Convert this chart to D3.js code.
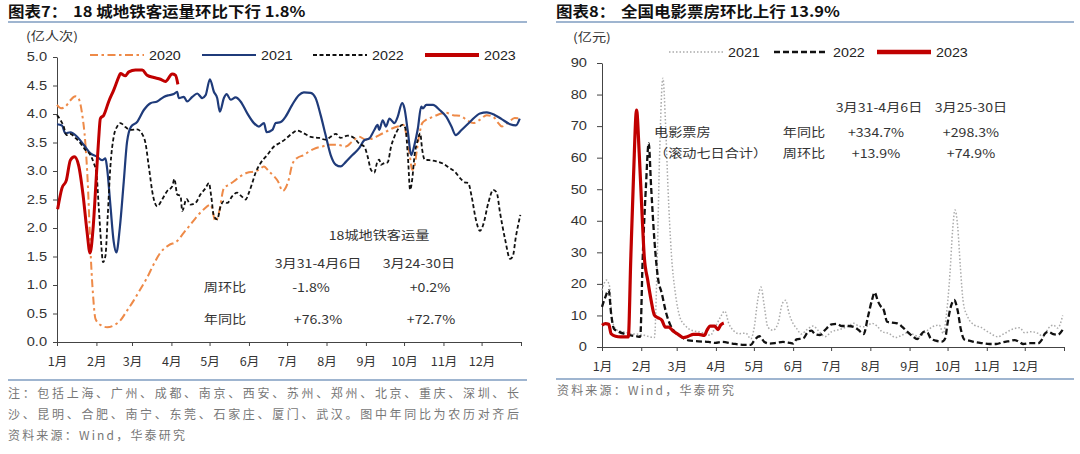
<!DOCTYPE html>
<html>
<head>
<meta charset="utf-8">
<script src="https://cdn.jsdelivr.net/npm/d3@7"></script>
<style>
  body { margin: 0; background: #fff; }
  svg text { font-family: "Liberation Sans", Arial, "Noto Sans CJK SC", sans-serif; }
</style>
</head>
<body>
<svg id="chart" width="1080" height="454"></svg>
<script>
// month starts (day of year) and labels shared by both panels
var monthStarts = [0, 31, 59, 90, 120, 151, 181, 212, 243, 273, 304, 334, 365];
var monthLabels = ["1月", "2月", "3月", "4月", "5月", "6月", "7月", "8月", "9月", "10月", "11月", "12月", ""];

// 18-city metro ridership (亿人次), [day of year, value]
var metro2020 = [[0,4.16],[3.2,4.10],[6.6,4.13],[10.5,4.24],[14.4,4.31],[17,4.27],[19.7,4.01],[22.3,3.49],[24.2,2.79],[25.7,1.98],[26.8,1.40],[28.4,0.81],[30.2,0.41],[34.1,0.30],[39.4,0.26],[44.6,0.29],[49.9,0.38],[55.1,0.55],[60.4,0.73],[65.7,0.93],[70.9,1.13],[76.2,1.37],[81.4,1.57],[88,1.70],[94.5,1.77],[99.8,1.92],[105,2.06],[110.3,2.21],[115.5,2.33],[120.8,2.41],[124.7,2.12],[127.4,2.27],[131.3,2.70],[135.2,2.76],[139.2,2.82],[144.4,2.91],[149.7,2.97],[154.9,2.99],[158.9,3.02],[162.8,3.08],[166.8,2.99],[170.7,2.91],[173.8,2.82],[177.5,2.65],[182.3,2.85],[185,3.11],[188.9,3.23],[194.2,3.28],[198.1,3.34],[203.4,3.40],[208.7,3.43],[214,3.46],[220.6,3.46],[227.2,3.43],[232.4,3.52],[237.7,3.60],[243,3.55],[249.3,3.58],[253.5,3.63],[258.8,3.69],[264.1,3.75],[269.4,3.79],[272.5,3.81],[274.6,3.66],[277.3,3.31],[279.4,3.02],[281.2,3.08],[283.1,3.37],[285.2,3.66],[287.3,3.84],[290.5,3.90],[295.8,3.95],[301,4.00],[306.3,4.02],[311.6,3.98],[316.9,3.97],[322.1,3.90],[327.4,3.84],[332.7,3.90],[338,3.98],[343.2,3.95],[347.2,3.84],[350,3.78],[355,3.85],[360,3.93],[364,3.92]];
var metro2021 = [[0,3.82],[3.9,3.80],[6.6,3.66],[10.5,3.68],[15.8,3.60],[21,3.46],[26.3,3.31],[31.5,3.25],[35.5,3.19],[38.1,3.22],[39.4,3.05],[42,2.40],[44.6,1.76],[46.7,1.57],[49.4,2.00],[52.5,2.81],[55.1,3.51],[58.3,3.78],[63,3.86],[68.3,4.07],[73.5,4.19],[78.8,4.22],[84,4.30],[88,4.33],[91.9,4.35],[94.5,4.39],[95.8,4.28],[99.8,4.30],[102.4,4.22],[106.4,4.30],[110.3,4.36],[114.2,4.28],[116.9,4.33],[120.3,4.61],[123.4,4.39],[126,4.28],[128.1,4.04],[131.3,4.28],[133.4,4.35],[136.6,4.25],[140.5,4.29],[144.4,4.22],[149.7,4.01],[154.9,3.84],[158.9,3.78],[162.8,3.84],[164.9,3.68],[169.4,3.72],[172,3.84],[176,3.86],[179.7,3.95],[185,4.16],[190.2,4.33],[194.2,4.38],[199.5,4.37],[203.4,4.28],[207.4,3.98],[211.3,3.63],[215.3,3.28],[219.3,3.11],[223.2,3.08],[227.2,3.16],[232.4,3.28],[237.7,3.40],[241.7,3.54],[245.6,3.57],[249.6,3.72],[252.2,3.81],[253.5,3.72],[256.2,3.89],[258.8,3.78],[261.5,3.92],[265.4,3.84],[268,3.95],[271.5,4.19],[273.3,4.10],[276,3.69],[278.6,3.28],[281.2,3.46],[283.9,3.75],[286.5,4.13],[287.8,4.10],[290.5,4.16],[295.8,4.16],[301,4.07],[306.3,3.95],[310.3,3.78],[313.7,3.63],[318.2,3.72],[324.8,3.86],[332.7,4.01],[338,4.03],[344.6,3.98],[349.8,3.91],[356.4,3.82],[361,3.80],[364,3.92]];
var metro2022 = [[0,3.98],[2.6,3.90],[5.3,3.78],[7.4,3.63],[10.5,3.65],[14.4,3.58],[18.4,3.49],[22.3,3.37],[26.3,3.28],[28.9,3.14],[31,2.97],[32.8,2.38],[34.7,1.74],[36.2,1.40],[38.1,1.51],[39.9,2.21],[42,3.08],[44.6,3.60],[47.3,3.78],[49.9,3.84],[53.8,3.77],[57.8,3.72],[63,3.73],[67,3.65],[69.6,3.49],[72.2,3.08],[75.6,2.56],[78.8,2.38],[82.7,2.50],[86.7,2.65],[90.6,2.73],[92.4,2.86],[94.5,2.59],[97.2,2.56],[98.5,2.30],[101.9,2.51],[105,2.41],[109,2.44],[112.9,2.59],[116.9,2.70],[119.5,2.79],[121.3,2.56],[123.4,2.21],[126,2.15],[128.7,2.38],[131.3,2.47],[133.9,2.44],[137.9,2.56],[141.8,2.62],[145,2.56],[148.4,2.50],[151,2.62],[153.6,2.79],[156.2,2.97],[160.2,3.14],[165.4,3.28],[170.7,3.43],[175.9,3.50],[179.7,3.56],[185,3.66],[188.9,3.71],[194.2,3.66],[199.5,3.60],[206.1,3.58],[211.3,3.55],[215.3,3.60],[219.3,3.65],[223.2,3.58],[228.5,3.62],[233.8,3.58],[237.7,3.48],[241.7,3.43],[244.3,3.26],[247,3.02],[249.6,2.97],[251.7,3.14],[253.5,3.20],[254.9,3.11],[257.5,3.14],[260.1,3.15],[262.8,3.43],[265.4,3.60],[268.8,3.75],[271.5,3.81],[274.1,3.75],[276,3.26],[277.8,2.67],[279.4,2.85],[281.2,3.26],[283.9,3.55],[285.7,3.66],[287.3,3.37],[289.2,3.20],[293.1,3.19],[298.4,3.17],[303.7,3.13],[308.9,3.05],[312.9,2.99],[316.9,2.88],[320.8,2.80],[323.5,2.79],[326.1,2.56],[329.5,2.15],[332.7,1.95],[335.3,2.06],[339.3,2.44],[343.2,2.67],[345.9,2.62],[348.5,2.27],[352.5,1.80],[356.4,1.46],[358.5,1.50],[361,1.85],[364.5,2.23]];
var metro2023 = [[0.5,2.33],[3.9,2.70],[7.4,2.84],[10.5,3.19],[13.7,3.25],[17,3.10],[20.5,2.58],[23.6,1.94],[26,1.56],[28.4,2.00],[31,2.93],[32.8,3.57],[34.1,3.92],[36.8,3.98],[40.7,4.22],[44.6,4.42],[48.6,4.65],[49.9,4.71],[53.8,4.67],[56.5,4.74],[61.7,4.77],[67,4.77],[70.9,4.68],[76.2,4.64],[81.4,4.61],[85.3,4.57],[90.6,4.70],[93.2,4.68],[95.1,4.52]];

// national box office, rolling 7-day sum (亿元), [day of year, value]
var box2021 = [[0,18],[3.5,21.2],[6.1,19],[8,8.5],[12,5.3],[17.4,4.8],[22.7,4.2],[30.7,4.0],[36.1,3.4],[41.4,3.0],[43.6,27.5],[45.4,59.3],[48.1,85.2],[50.3,69.8],[52.1,50.8],[54.8,29.6],[58,16.9],[61.5,9.5],[65.5,6.9],[70.8,5.3],[76.2,4.8],[81.5,4.4],[85.5,3.7],[89.5,6.3],[93.6,9.5],[97,11.4],[100.2,7.4],[104.2,5.1],[108.3,4.2],[113.6,4.4],[117.6,2.6],[120.3,6.3],[123,14.8],[125.6,19],[128.3,12.7],[131,6.3],[135,5.3],[139,7.4],[142.5,13.8],[145.1,14.8],[147.8,10.6],[151,7.4],[153.7,5.9],[157.6,4.1],[161.6,5.4],[166.9,6.65],[170.9,5.2],[176.2,3.27],[181.5,4.85],[188.1,5.6],[194.8,6.65],[198.8,7.5],[202.7,6.65],[208,6.4],[213.3,7.5],[217.3,6.65],[221.3,4.85],[226.6,4.3],[231.9,3.0],[237.2,3.8],[241.2,4.5],[245.1,4.1],[250.5,3.27],[255.8,4.85],[261.1,6.4],[266.4,6.96],[269.6,4.3],[272.2,10.6],[274.9,23.3],[277,37],[278.9,43.4],[281,38.2],[283.1,25.5],[285.5,13.9],[288.9,9.6],[294.2,6.96],[299.5,6.2],[306.1,4.5],[312.7,3.27],[318,4.3],[324.7,5.7],[330,6.1],[334,4.5],[339.3,4.85],[344.6,4.3],[348.6,3.27],[352.6,5.9],[356.5,6.96],[360,6],[364,10]];
var box2022 = [[0,12.7],[2.7,15.9],[5.3,18.0],[7.2,10.6],[9.4,5.8],[13.4,4.8],[17.4,4.2],[22.7,3.7],[27.5,3.4],[30.2,3.2],[32.1,27.5],[34.7,50.8],[36.9,64.6],[38.8,50.8],[41.4,33.9],[44.1,22.2],[47.3,16.9],[50.8,10.6],[53.5,7.4],[57.5,4.8],[62.8,3.2],[68.2,2.1],[76.2,1.8],[84.2,1.6],[89.5,1.3],[94.9,1.6],[102.9,1.1],[110.9,0.7],[117.6,0.7],[120.3,2.1],[124.3,3.4],[128.3,1.6],[132.3,1.1],[137.7,1.3],[143,1.6],[148.4,1.3],[151,1.1],[153.7,2.4],[159,2.74],[162.9,4.85],[165.6,5.16],[168.2,4.1],[172.2,3.8],[176.2,5.38],[181.5,7.2],[185.5,7.3],[189.5,6.65],[194.8,6.65],[198.8,6.4],[202.7,5.38],[206.7,4.1],[210.1,9.6],[213.3,14.9],[215.4,17.3],[218.1,14.4],[220,13.0],[222.6,11.7],[225.3,8.0],[229.2,7.7],[233.2,7.5],[237.2,6.4],[241.2,4.85],[245.1,3.5],[249.1,2.5],[251.8,3.8],[254.4,4.85],[257.1,4.6],[259.7,2.7],[263.7,2.0],[268.5,1.7],[271.1,2.7],[273,7.5],[275.6,12.8],[278.3,14.9],[280.9,11.7],[283.6,5.4],[286.2,2.4],[290.2,2.0],[295.5,1.5],[300.8,1.2],[306.1,0.95],[311.4,0.95],[316.7,1.5],[322,1.9],[326,2.2],[330,1.5],[332.7,0.95],[338,1.2],[344.6,1.2],[347.3,2.2],[350,4.3],[352.6,4.85],[356.5,4.1],[360,3.9],[364,5.5]];
var box2023 = [[0,6.9],[2.7,7.4],[5.3,7.2],[7.2,4.2],[10.7,3.4],[14.7,3.2],[20.8,3.2],[22.7,27.5],[24.9,54],[27.3,75.1],[29.4,61.4],[31.5,43.4],[33.4,28.6],[36.1,21.2],[38.8,14.8],[41.4,10.1],[44.1,9.3],[47.3,8.5],[50,6.3],[52.7,6.3],[56.1,5.1],[60.1,4.0],[64.2,3.0],[68.2,3.4],[72.2,4.0],[76.2,4.0],[81,3.7],[82.9,5.3],[85.5,6.6],[89,6.6],[91.7,5.5],[93.6,6.9],[96.2,7.6]];

var svg = d3.select("#chart");

var cjk = "'Noto Sans CJK SC', 'Liberation Sans', sans-serif";

// The source picture is stretched sideways, so widen text about its anchor point.
function stretch(sel, k) {
  sel.each(function () {
    var t = d3.select(this);
    var x = +t.attr("x") || 0;
    t.attr("transform", "translate(" + x + ",0) scale(" + k + ",1) translate(" + (-x) + ",0)");
  });
}

/**
 * Draw one panel: axes, series and legend.
 */
function drawPanel(params) {
  var x = d3.scaleLinear().domain([0, 365]).range(params.xRange);
  var y = d3.scaleLinear().domain(params.yDomain).range(params.yRange);

  var xAxis = svg.append("g")
                 .attr("transform", "translate(0," + params.yRange[0] + ")")
                 .call(d3.axisBottom(x)
                         .tickValues(monthStarts)
                         .tickFormat(function (d, i) { return monthLabels[i]; })
                         .tickSize(4)
                         .tickPadding(11)
                         .tickSizeOuter(0));

  var yAxis = svg.append("g")
                 .attr("transform", "translate(" + params.xRange[0] + ",0)")
                 .call(d3.axisLeft(y)
                         .tickValues(params.yTicks)
                         .tickFormat(params.yFormat)
                         .tickSize(params.yTickSize)
                         .tickPadding(params.yPad)
                         .tickSizeOuter(0));

  [xAxis, yAxis].forEach(function (g) {
    g.selectAll("path, line").attr("stroke", "#444");
    g.selectAll("text")
     .attr("fill", "#333")
     .style("font-size", "12px")
     .style("font-family", cjk);
  });
  yAxis.selectAll("text").style("font-family", "'Liberation Sans', Arial, sans-serif");
  stretch(yAxis.selectAll("text"), 1.22);
  stretch(xAxis.selectAll("text"), 1.05);

  var line = d3.line()
               .x(function (d) { return x(d[0]); })
               .y(function (d) { return y(d[1]); })
               .curve(d3.curveMonotoneX);

  params.series.forEach(function (s) {
    svg.append("path")
       .datum(s.data)
       .attr("fill", "none")
       .attr("stroke", s.color)
       .attr("stroke-width", s.width)
       .attr("stroke-dasharray", s.dash || null)
       .attr("stroke-linejoin", "round")
       .attr("d", line);

    // legend entry
    svg.append("line")
       .attr("x1", s.lx)
       .attr("x2", s.lx + 54)
       .attr("y1", params.legendY)
       .attr("y2", params.legendY)
       .attr("stroke", s.color)
       .attr("stroke-width", s.legendWidth || s.width)
       .attr("stroke-dasharray", s.dash || null);

    var t = svg.append("text")
               .attr("x", s.lx + 59)
               .attr("y", params.legendY + 5)
               .style("font-size", "13px")
               .attr("fill", "#222")
               .text(s.name);
    stretch(t, 1.1);
  });
}

drawPanel({
  xRange: [57, 521],
  yDomain: [0, 5],
  yRange: [342, 57],
  yTicks: d3.range(0, 5.01, 0.5),
  yFormat: d3.format(".1f"),
  yTickSize: 4,
  yPad: 6,
  legendY: 55,
  series: [
    {name: "2020", data: metro2020, color: "#ee8a48", width: 2, dash: "8,3.5,2.5,3.5", lx: 90},
    {name: "2021", data: metro2021, color: "#1f3b7a", width: 2.2, lx: 202},
    {name: "2022", data: metro2022, color: "#111", width: 1.8, dash: "4,2.5", lx: 313},
    {name: "2023", data: metro2023, color: "#c00000", width: 3, legendWidth: 4, lx: 425}
  ]
});

drawPanel({
  xRange: [602, 1064],
  yDomain: [0, 90],
  yRange: [347, 63],
  yTicks: d3.range(0, 91, 10),
  yFormat: d3.format("d"),
  yTickSize: 5,
  yPad: 10,
  legendY: 52,
  series: [
    {name: "2021", data: box2021, color: "#aaa", width: 1.5, dash: "1.5,2", lx: 669},
    {name: "2022", data: box2022, color: "#111", width: 2.3, dash: "6,3", lx: 774},
    {name: "2023", data: box2023, color: "#c00000", width: 3.2, legendWidth: 4.5, lx: 877}
  ]
});

// titles and rules
function title(x, label, rest, restX) {
  [[x, label], [restX, rest]].forEach(function (p) {
    var t = svg.append("text").attr("x", p[0]).attr("y", 17)
               .style("font-family", cjk).style("font-size", "15px").style("font-weight", "bold")
               .attr("fill", "#111").text(p[1]);
    stretch(t, 1.1);
  });
}
title(8, "图表7：", "18 城地铁客运量环比下行 1.8%", 73);
title(556, "图表8：", "全国电影票房环比上行 13.9%", 621);

[[8, 527, 22], [556, 1074, 22], [8, 527, 380], [556, 1074, 379]].forEach(function (r) {
  svg.append("line")
     .attr("x1", r[0]).attr("x2", r[1]).attr("y1", r[2]).attr("y2", r[2])
     .attr("stroke", "#7f9cc0")
     .attr("stroke-width", 1.5);
});

// annotation texts: [x, y, text, anchor]
var notes = [
  [26, 41, "(亿人次)", "start"],
  [573, 42, "(亿元)", "start"],
  [379, 240, "18城地铁客运量", "middle"],
  [318, 268, "3月31-4月6日", "middle"],
  [419, 268, "3月24-30日", "middle"],
  [225, 292, "周环比", "middle"],
  [311, 292, "-1.8%", "middle"],
  [430, 292, "+0.2%", "middle"],
  [225, 324, "年同比", "middle"],
  [318, 324, "+76.3%", "middle"],
  [431, 324, "+72.7%", "middle"],
  [879, 112, "3月31-4月6日", "middle"],
  [971, 112, "3月25-30日", "middle"],
  [654, 137, "电影票房", "start"],
  [654, 158, "（滚动七日合计）", "start"],
  [804, 137, "年同比", "middle"],
  [876, 137, "+334.7%", "middle"],
  [971, 137, "+298.3%", "middle"],
  [804, 158, "周环比", "middle"],
  [876, 158, "+13.9%", "middle"],
  [971, 158, "+74.9%", "middle"]
];

notes.forEach(function (l) {
  var t = svg.append("text")
             .attr("x", l[0])
             .attr("y", l[1])
             .attr("text-anchor", l[3])
             .attr("fill", "#333")
             .style("font-size", "12px")
             .style("font-family", cjk)
             .text(l[2]);
  stretch(t, 1.18);
});

// footnotes: [x, y, text, width]
var footnotes = [
  [8, 398, "注：包括上海、广州、成都、南京、西安、苏州、郑州、北京、重庆、深圳、长", 511],
  [8, 419, "沙、昆明、合肥、南宁、东莞、石家庄、厦门、武汉。图中年同比为农历对齐后", 511],
  [8, 440, "资料来源：Wind，华泰研究", 177],
  [557, 395, "资料来源：Wind，华泰研究", 177]
];

footnotes.forEach(function (l) {
  svg.append("text")
     .attr("x", l[0])
     .attr("y", l[1])
     .attr("fill", "#777")
     .attr("textLength", l[3])
     .attr("lengthAdjust", "spacing")
     .style("font-size", "12px")
     .style("font-family", cjk)
     .text(l[2]);
});
</script>
</body>
</html>
